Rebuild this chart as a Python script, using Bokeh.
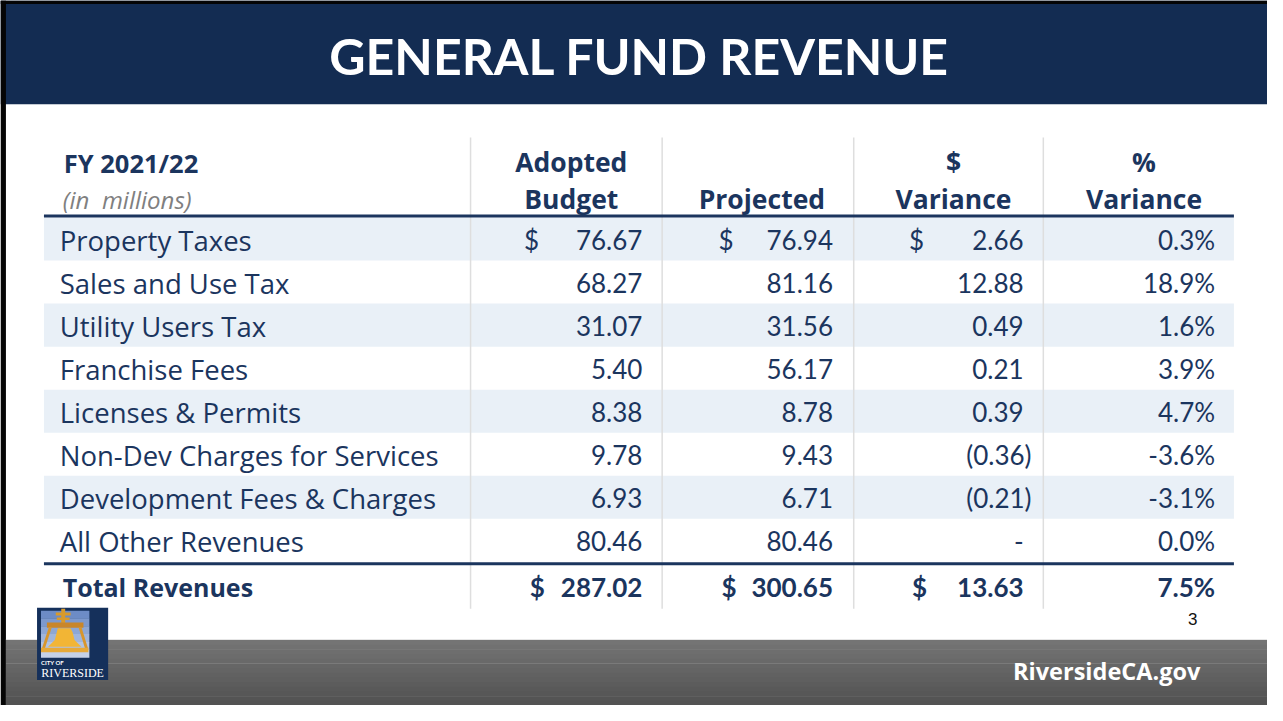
from bokeh.plotting import figure
from bokeh.models import Range1d, ColumnDataSource
from bokeh.core.properties import value
from bokeh.embed import file_html
from bokeh.resources import INLINE

# ---------------- data ----------------
title = "GENERAL FUND REVENUE"
year_label = "FY 2021/22"
unit_label = "(in\u00a0 millions)"
col_headers_top = ["Adopted", "", "$", "%"]
col_headers_bot = ["Budget", "Projected", "Variance", "Variance"]
categories = ["Property Taxes", "Sales and Use Tax", "Utility Users Tax",
              "Franchise Fees", "Licenses & Permits", "Non-Dev Charges for Services",
              "Development Fees & Charges", "All Other Revenues"]
adopted = [76.67, 68.27, 31.07, 5.40, 8.38, 9.78, 6.93, 80.46]
projected = [76.94, 81.16, 31.56, 56.17, 8.78, 9.43, 6.71, 80.46]
variance = [2.66, 12.88, 0.49, 0.21, 0.39, -0.36, -0.21, 0.0]
pct_variance = [0.3, 18.9, 1.6, 3.9, 4.7, -3.6, -3.1, 0.0]
total_label = "Total Revenues"
total_adopted = 287.02
total_projected = 300.65
total_variance = 13.63
total_pct = 7.5
footer_text = "RiversideCA.gov"
page_number = "3"

# ---------------- styles / layout ----------------
NAVY = "#132c52"
TEXT = "#1b355e"
SHADE = "#e9f0f7"
LATO = value("Lato")
OPEN = value("Open Sans")
W, H = 1267, 705
SW, SH = 1283, 721          # slide coordinate space
ROW_TOP, ROW_H = 222, 44
TABLE_L, TABLE_R = 44, 1249
COL_EDGES = [476, 670, 864, 1056]
NUM_RIGHT = [650, 843, 1036, 1230]
DOLLAR_X = [530, 727, 920]
DOLLAR_X_TOT = [536, 730, 923]
HEAD_CX = [578, 771, 965, 1158]

p = figure(width=W, height=H, x_range=Range1d(0, SW), y_range=Range1d(SH, 0),
           output_backend="svg", toolbar_location=None, min_border=0,
           outline_line_color=None)
p.axis.visible = False
p.grid.visible = False
p.background_fill_color = "white"
p.border_fill_color = "white"

# slide borders
p.quad(left=[0], right=[SW], top=[0], bottom=[106], fill_color=NAVY, line_color=None)
p.quad(left=[0], right=[SW], top=[0], bottom=[3.5], fill_color="#050505", line_color=None)
p.quad(left=[0], right=[5.5], top=[0], bottom=[SH], fill_color="#050505", line_color=None)

p.text(x=[647], y=[57], text=[title], text_font=LATO, text_font_style="bold",
       text_font_size="50px", text_color="white", text_align="center",
       text_baseline="middle")

# footer gradient
n = 14
f_top, f_bot = 654, SH
c0, c1 = (0x74, 0x74, 0x74), (0x52, 0x52, 0x52)
tops, bots, cols = [], [], []
for k in range(n):
    t = k / (n - 1)
    cc = tuple(int(c0[j] + (c1[j] - c0[j]) * t) for j in range(3))
    tops.append(f_top + (f_bot - f_top) * k / n)
    bots.append(f_top + (f_bot - f_top) * (k + 1) / n + 0.5)
    cols.append("#%02x%02x%02x" % cc)
p.quad(left=5.5, right=SW, top=tops, bottom=bots, fill_color=cols, line_color=None)
p.segment(x0=[5.5], x1=[SW], y0=[653.5], y1=[653.5], line_color="#e6e6e6", line_width=1)
p.text(x=[1215], y=[686], text=[footer_text], text_font=OPEN, text_font_style="bold",
       text_font_size="23.5px", text_color="white", text_align="right",
       text_baseline="middle")
p.text(x=[1212], y=[633], text=[page_number], text_font=value("Liberation Sans"),
       text_font_size="17px", text_color="#111111", text_align="right",
       text_baseline="middle")

# row shading
n_rows = len(categories)
row_tops = [ROW_TOP + ROW_H * i for i in range(n_rows)]
sh_t = [row_tops[i] for i in range(n_rows) if i % 2 == 0]
sh_b = [row_tops[i] + ROW_H for i in range(n_rows) if i % 2 == 0]
p.quad(left=TABLE_L, right=TABLE_R, top=sh_t, bottom=sh_b, fill_color=SHADE,
       line_color=None)

# vertical separators
p.segment(x0=COL_EDGES, x1=COL_EDGES, y0=[140] * 4, y1=[622] * 4,
          line_color="#dedede", line_width=1.5)

# horizontal rules
total_top = ROW_TOP + ROW_H * n_rows
p.segment(x0=[TABLE_L, TABLE_L], x1=[TABLE_R, TABLE_R],
          y0=[ROW_TOP - 1.5, total_top + 2], y1=[ROW_TOP - 1.5, total_top + 2],
          line_color=TEXT, line_width=3)

# header texts
p.text(x=[64], y=[166], text=[year_label], text_font=OPEN, text_font_style="bold",
       text_font_size="25.5px", text_color=TEXT, text_baseline="middle")
p.text(x=[63], y=[204], text=[unit_label], text_font=OPEN, text_font_style="italic",
       text_font_size="24px", text_color="#808080", text_baseline="middle")
p.text(x=HEAD_CX, y=[165] * 4, text=col_headers_top, text_font=OPEN,
       text_font_style="bold", text_font_size="26.5px", text_color=TEXT,
       text_align="center", text_baseline="middle")
p.text(x=HEAD_CX, y=[203] * 4, text=col_headers_bot, text_font=OPEN,
       text_font_style="bold", text_font_size="26.5px", text_color=TEXT,
       text_align="center", text_baseline="middle")

# body
yc = [t + 23 for t in row_tops]
p.text(x=[60] * n_rows, y=yc, text=categories, text_font=OPEN, text_font_size="27.5px",
       text_color=TEXT, text_baseline="middle")


def fmt_var(v):
    if v == 0:
        return "-"
    if v < 0:
        return "(%.2f)" % abs(v)
    return "%.2f" % v


num_src = ColumnDataSource(dict(
    x=[NUM_RIGHT[0]] * n_rows + [NUM_RIGHT[1]] * n_rows
      + [NUM_RIGHT[2] + (8 if v < 0 else 0) for v in variance]
      + [NUM_RIGHT[3]] * n_rows,
    y=yc * 4,
    t=["%.2f" % v for v in adopted] + ["%.2f" % v for v in projected]
      + [fmt_var(v) for v in variance] + ["%.1f%%" % v for v in pct_variance],
))
p.text(x="x", y="y", text="t", source=num_src, text_font=LATO, text_font_size="26px",
       text_color=TEXT, text_align="right", text_baseline="middle")
p.text(x=DOLLAR_X, y=[yc[0]] * 3, text=["$"] * 3, text_font=LATO,
       text_font_size="26px", text_color=TEXT, text_baseline="middle")

# total row
ty = total_top + 26
p.text(x=[63], y=[ty], text=[total_label], text_font=OPEN, text_font_style="bold",
       text_font_size="25px", text_color=TEXT, text_baseline="middle")
p.text(x=NUM_RIGHT, y=[ty] * 4,
       text=["%.2f" % total_adopted, "%.2f" % total_projected, "%.2f" % total_variance,
             "%.1f%%" % total_pct],
       text_font=LATO, text_font_style="bold", text_font_size="26px", text_color=TEXT,
       text_align="right", text_baseline="middle")
p.text(x=DOLLAR_X_TOT, y=[ty] * 3, text=["$"] * 3, text_font=LATO,
       text_font_style="bold", text_font_size="26px", text_color=TEXT,
       text_baseline="middle")

# logo (decorative)
p.quad(left=[37], right=[109], top=[621], bottom=[695], fill_color="#15305b",
       line_color=None)
lb = ["#6d8cc6", "#7d99cd", "#8ea7d4", "#a0b5db", "#b2c3e2", "#c4d1e9"]
lt = [624 + 8 * k for k in range(6)]
p.quad(left=41, right=90, top=lt, bottom=[t + 8.2 for t in lt], fill_color=lb,
       line_color=None)
GOLD = "#d99a2b"
p.quad(left=[61.5], right=[65.5], top=[622], bottom=[637], fill_color=GOLD, line_color=None)
p.quad(left=[56, 57], right=[71, 70], top=[626, 631], bottom=[629, 633.5],
       fill_color=GOLD, line_color=None)
p.quad(left=[47], right=[84], top=[636], bottom=[641.5], fill_color="#c9862a",
       line_color=None)
p.patches(xs=[[49, 52, 44.5, 41.5], [79, 82, 89, 86]],
          ys=[[641, 641, 664, 664], [641, 641, 664, 664]],
          fill_color="#d8962c", line_color=None)
p.quad(left=[41], right=[89], top=[662], bottom=[666.5], fill_color="#e6a93a",
       line_color=None)
p.patch(x=[58, 71, 73, 75, 79, 82, 48, 51, 55, 57],
        y=[642, 642, 646, 654, 658, 661, 661, 658, 654, 646],
        fill_color="#f2b535", line_color=None)
p.text(x=[41], y=[677], text=["CITY OF"], text_font=LATO, text_font_style="bold",
       text_font_size="6px", text_color="white", text_baseline="middle")
p.text(x=[73], y=[688], text=["RIVERSIDE"], text_font=value("Liberation Serif"),
       text_font_size="12px", text_color="white", text_align="center",
       text_baseline="middle")

open("out.html", "w").write(file_html(p, INLINE))
